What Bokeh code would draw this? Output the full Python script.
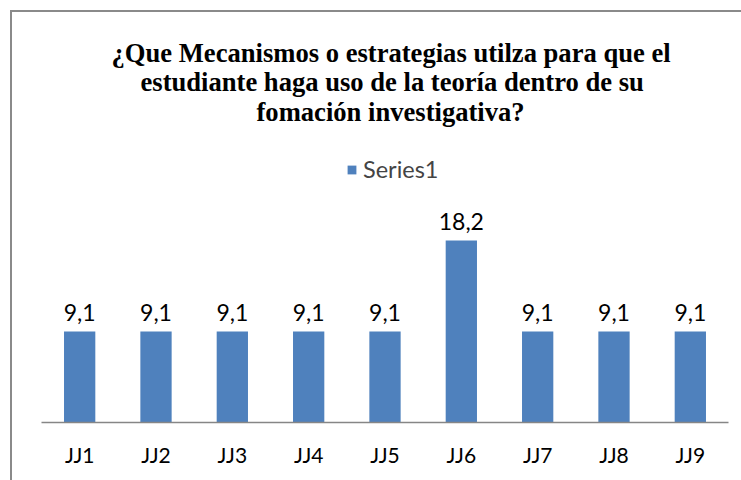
from bokeh.plotting import figure
from bokeh.models import (ColumnDataSource, LabelSet, Legend, LegendItem, FactorRange,
                          Range1d, Title, InlineStyleSheet)
from bokeh.core.properties import value
from bokeh.embed import file_html
from bokeh.resources import INLINE

categories = ["JJ1", "JJ2", "JJ3", "JJ4", "JJ5", "JJ6", "JJ7", "JJ8", "JJ9"]
values = [9.1, 9.1, 9.1, 9.1, 9.1, 18.2, 9.1, 9.1, 9.1]
series_name = "Series1"
title_lines = [
    "¿Que Mecanismos o estrategias  utilza para que el",
    "estudiante haga uso de la teoría dentro de su",
    "fomación investigativa?",
]

labels = [f"{v:.1f}".replace(".", ",") for v in values]
src = ColumnDataSource(dict(cat=categories, val=values, lab=labels))

BLUE = "#4F81BD"
FONT = "Lato"

p = figure(
    x_range=FactorRange(*categories, range_padding=0),
    y_range=Range1d(0, 29.6),
    width=741, height=480,
    output_backend="svg", toolbar_location=None,
    min_border_left=41, min_border_right=13, min_border_bottom=58, min_border_top=126,
)
p.outline_line_color = None
p.xgrid.visible = False
p.ygrid.visible = False
p.yaxis.visible = False
p.background_fill_color = "white"
p.border_fill_color = "white"

# chart-area border (only its top and left edges fall inside the crop)
p.stylesheets = [InlineStyleSheet(css=":host::after { content: ''; position: absolute; "
                                      "left: 10px; top: 10px; right: 0; bottom: 0; "
                                      "border-left: 2px solid #8a8a8a; border-top: 2px solid #8a8a8a; "
                                      "pointer-events: none; }")]

r = p.vbar(x="cat", top="val", width=0.41, source=src, fill_color=BLUE, line_color=None)

p.add_layout(LabelSet(x="cat", y="val", text="lab", source=src, text_align="center",
                      text_baseline="alphabetic", y_offset=11, text_font=value(FONT),
                      text_font_size="23px", text_color="#000000"))

xa = p.xaxis[0]
xa.axis_line_color = "#868686"
xa.axis_line_width = 1.5
xa.major_tick_line_color = None
xa.minor_tick_line_color = None
xa.major_label_text_font = FONT
xa.major_label_text_font_size = "21px"
xa.major_label_text_color = "#000000"
xa.major_label_standoff = 13

legend = Legend(items=[LegendItem(label=series_name, renderers=[r])], location=(305, 239),
                orientation="horizontal", margin=0, padding=0, glyph_width=11, glyph_height=11,
                label_standoff=6, label_text_font=FONT, label_text_font_size="23.5px",
                border_line_color=None, background_fill_alpha=0)
p.add_layout(legend)

title_offsets = [70, 99, 215]
title_standoffs = [0, -5, 0]
for line, off, so in reversed(list(zip(title_lines, title_offsets, title_standoffs))):
    p.add_layout(Title(text=line, align="left", offset=off, standoff=so,
                       text_font="Liberation Serif", text_font_style="bold",
                       text_font_size="26.6px", text_color="#000000"), "above")

open("out.html", "w").write(file_html(p, INLINE))
